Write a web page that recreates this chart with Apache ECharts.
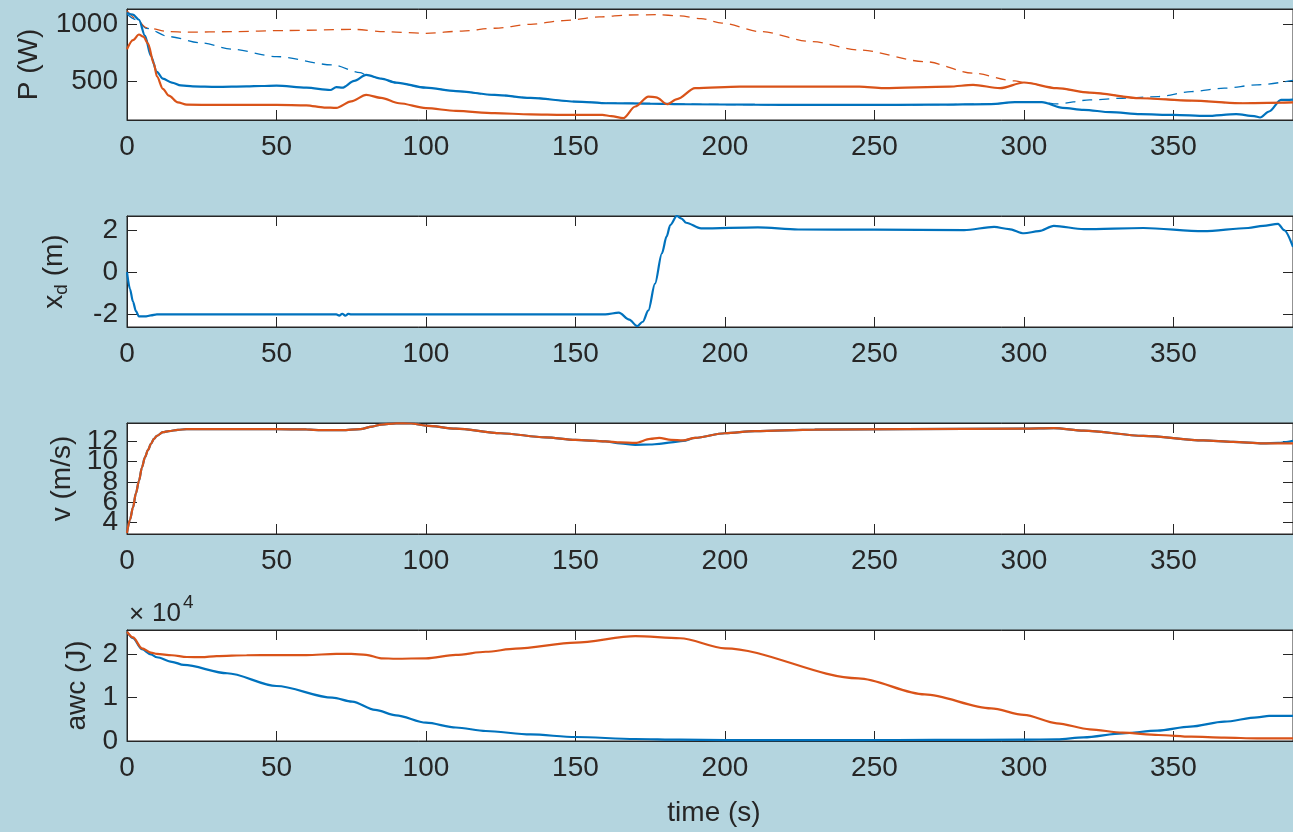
<!DOCTYPE html>
<html>
<head>
<meta charset="utf-8">
<script src="https://cdn.jsdelivr.net/npm/echarts@6/dist/echarts.min.js"></script>
<style>
  html, body { margin: 0; padding: 0; background: #b4d5df; }
  #chart { width: 1293px; height: 832px; }
</style>
</head>
<body>
<div id="chart"></div>
<script>
// x axis (time, s)
const timeTicks = [0, 50, 100, 150, 200, 250, 300, 350];
const timeMax = 390;

// panel 1: power P (W)
const pTicks = [500, 1000];
const pBlueT = [0, 2, 4, 6, 8, 10, 12, 15, 18, 22, 30, 40, 45, 50, 60, 68, 70, 72, 76, 80, 85, 90, 100, 110, 123, 135, 150, 161, 175, 187, 210, 228, 245, 270, 289, 297, 306, 313, 320, 329, 339, 350, 361, 371, 377, 379, 382, 386, 390];
const pBlue = [1100, 1085, 1040, 900, 720, 580, 520, 485, 460, 452, 448, 452, 455, 458, 440, 420, 445, 440, 500, 553, 520, 485, 440, 410, 377, 350, 318, 303, 300, 294, 290, 288, 288, 290, 296, 312, 312, 262, 245, 224, 206, 200, 191, 206, 190, 177, 230, 332, 335];
const pOrangeT = [0, 2, 4, 5.5, 7, 9, 10, 12, 14, 17, 20, 30, 50, 60, 66, 70, 75, 80, 85, 91, 100, 110, 123, 135, 146, 159, 162, 166, 170, 174.4, 177, 180.7, 184, 190, 205, 245, 253, 275, 283, 292, 300, 311, 322, 339, 356, 372, 390];
const pOrange = [780, 860, 910, 890, 832, 650, 540, 430, 370, 310, 290, 288, 288, 285, 265, 262, 320, 377, 350, 303, 260, 235, 215, 205, 200, 200, 190, 171, 274, 362, 355, 294, 340, 436, 450, 450, 436, 450, 465, 436, 486, 436, 397, 347, 326, 303, 310];
const pBlueRefT = [0, 3, 6.5, 14, 25, 35, 50, 69, 78, 80, 85, 90, 100, 110, 123, 135, 150, 161, 175, 187, 210, 228, 245, 270, 289, 297, 306, 311, 322, 333, 345, 356, 367, 378, 390];
const pBlueRef = [1090, 1040, 965, 891, 835, 780, 715, 641, 573, 553, 520, 485, 440, 410, 377, 350, 318, 303, 300, 294, 290, 288, 288, 290, 296, 312, 312, 297, 332, 347, 362, 406, 436, 465, 505];
const pOrangeRefT = [0, 3, 6.5, 14, 20, 35, 53, 76, 86, 100, 112, 123, 135, 146, 158, 168, 177, 185, 192, 199, 212, 229, 245, 267, 283, 297, 300, 311, 322, 339, 356, 372, 390];
const pOrangeRef = [1120, 1050, 970, 935, 930, 935, 945, 955, 935, 920, 940, 965, 1000, 1032, 1065, 1082, 1085, 1075, 1050, 1010, 935, 847, 773, 670, 568, 500, 486, 436, 397, 347, 326, 303, 310];

// panel 2: lateral position x_d (m)
const xdTicks = [-2, 0, 2];
const xdT = [0, 1, 2, 3, 4, 6, 8, 10, 70, 71, 72, 73, 74, 75, 160, 164.5, 168, 170.6, 172.5, 174.4, 176.6, 178.9, 180.5, 181.7, 183.9, 185.5, 187, 192, 211, 224.5, 250, 280, 290, 295, 300, 305, 310, 320, 340, 360, 375, 380, 385, 387, 390];
const xd = [0, -0.8, -1.4, -1.85, -2.1, -2.1, -2.05, -2.0, -2.0, -2.06, -1.97, -2.06, -1.98, -2.0, -2.0, -1.92, -2.25, -2.56, -2.35, -1.81, -0.54, 0.89, 1.7, 2.24, 2.67, 2.55, 2.35, 2.08, 2.13, 2.03, 2.02, 2.0, 2.15, 2.05, 1.85, 1.95, 2.2, 2.05, 2.1, 1.95, 2.1, 2.2, 2.3, 2.0, 1.2];

// panel 3: speed v (m/s) -- labels overlap in the original, drawn in two sets
const vTicks = [4, 6, 8, 10, 12];
const vLabelsA = [4, 8, 12];
const vLabelsB = [6, 10];
const vT = [0, 1, 2, 3, 4, 5, 6, 7, 8, 9, 10, 12, 14, 17, 20, 50, 60, 65, 72, 78, 82, 85, 90, 95, 100, 110, 125, 140, 150, 160, 165, 170, 175, 178, 182, 186, 190, 200, 210, 230, 260, 300, 310, 320, 340, 360, 370, 380, 385, 390];
const vOrange = [3.0, 4.3, 5.5, 6.9, 8.1, 9.4, 10.4, 11.1, 11.7, 12.2, 12.5, 12.85, 12.96, 13.08, 13.15, 13.15, 13.12, 13.05, 13.05, 13.15, 13.4, 13.6, 13.72, 13.7, 13.5, 13.2, 12.75, 12.35, 12.1, 11.95, 11.85, 11.8, 12.2, 12.3, 12.1, 12.05, 12.3, 12.75, 12.95, 13.1, 13.15, 13.2, 13.25, 13.0, 12.5, 12.05, 11.9, 11.75, 11.75, 11.75];
const vBlue = [3.0, 4.3, 5.5, 6.9, 8.1, 9.4, 10.4, 11.1, 11.7, 12.2, 12.5, 12.85, 12.96, 13.08, 13.15, 13.15, 13.12, 13.05, 13.05, 13.15, 13.4, 13.6, 13.72, 13.7, 13.5, 13.2, 12.75, 12.35, 12.1, 11.95, 11.75, 11.62, 11.65, 11.7, 11.85, 12.0, 12.3, 12.75, 12.95, 13.1, 13.15, 13.2, 13.25, 13.0, 12.5, 12.05, 11.9, 11.75, 11.8, 12.0];

// panel 4: anaerobic work capacity awc (J)
const awcTicks = [0, 10000, 20000];
const awcOrangeT = [0, 2, 5, 8, 10, 15, 20, 25, 30, 40, 50, 60, 70, 75, 80, 85, 90, 100, 110, 120, 130, 150, 170, 185, 200, 244.6, 266.8, 289, 300, 311, 322, 333, 345, 356, 367, 378, 390];
const awcOrange = [25100, 23800, 21300, 20300, 20000, 19700, 19300, 19250, 19500, 19700, 19750, 19750, 20000, 20000, 19800, 19000, 18900, 19000, 19800, 20500, 21200, 22600, 24100, 23600, 21300, 14400, 10700, 7500, 6000, 4070, 2690, 1910, 1380, 990, 770, 620, 600];
const awcBlueT = [0, 2, 5, 8, 10, 15, 19, 33.5, 50, 68.7, 75.3, 83, 90, 100, 110, 120, 135, 150, 170, 185, 200, 245, 270, 300, 311, 320, 333, 344.6, 355.6, 367, 378, 382, 390];
const awcBlue = [25100, 23600, 21080, 19900, 19240, 18200, 17470, 15560, 12640, 9950, 9040, 7130, 5900, 4210, 3100, 2300, 1500, 920, 460, 300, 200, 200, 250, 300, 390, 850, 1770, 2370, 3290, 4440, 5450, 5750, 5750];

const BLUE = "#0072bd";
const ORANGE = "#d95319";
const INK = "#262626";
const FONT = "Liberation Sans";

const zip = (t, v) => t.map((x, i) => [x, v[i]]);

const panels = [
  { top: 9, min: 155, max: 1135, ticks: pTicks, labels: pTicks, name: "P (W)", gap: 84, fmt: (v) => String(v) },
  { top: 216, min: -2.6, max: 2.67, ticks: xdTicks, labels: xdTicks, name: "{m|x}{s|d}{m| (m)}", gap: 56, fmt: (v) => String(v) },
  { top: 423, min: 2.9, max: 13.75, ticks: vTicks, labels: vLabelsA, name: "v (m/s)", gap: 50, fmt: (v) => String(v) },
  { top: 630, min: 0, max: 25500, ticks: awcTicks, labels: awcTicks, name: "awc (J)", gap: 32, fmt: (v) => String(v / 10000) },
];

const labelStyle = { color: INK, fontSize: 28, fontFamily: FONT, margin: 9, showMinLabel: true, showMaxLabel: true, hideOverlap: false };
const grid = [], xAxis = [], yAxis = [];
panels.forEach((p, i) => {
  grid.push({
    left: 127, width: 1169, top: p.top, height: 111,
    show: true, backgroundColor: "#fff", borderColor: INK, borderWidth: 1,
  });
  const tick = { show: true, inside: true, length: 10, lineStyle: { color: INK } };
  xAxis.push({
    type: "value", gridIndex: i, min: 0, max: timeMax, position: "bottom",
    axisLine: { onZero: false, lineStyle: { color: INK } },
    axisTick: Object.assign({ customValues: timeTicks }, tick),
    axisLabel: Object.assign({}, labelStyle, { customValues: timeTicks, margin: 13 }),
    splitLine: { show: false },
    name: i === 3 ? "time (s)" : "", nameLocation: "middle", nameGap: 58,
    nameTextStyle: { color: INK, fontSize: 28, fontFamily: FONT, padding: [0, 0, 0, 8] },
  });
  xAxis.push({
    type: "value", gridIndex: i, min: 0, max: timeMax, position: "top",
    axisLine: { onZero: false, lineStyle: { color: INK } },
    axisTick: Object.assign({ customValues: timeTicks }, tick),
    axisLabel: { show: false }, splitLine: { show: false },
  });
  yAxis.push({
    type: "value", gridIndex: i, min: p.min, max: p.max, position: "left",
    axisLine: { show: true, onZero: false, lineStyle: { color: INK } },
    axisTick: Object.assign({ customValues: p.ticks }, tick),
    axisLabel: Object.assign({}, labelStyle, { customValues: p.labels, formatter: p.fmt }),
    splitLine: { show: false },
    name: p.name, nameLocation: "middle", nameGap: p.gap,
    nameTextStyle: {
      color: INK, fontSize: 28, fontFamily: FONT,
      rich: {
        m: { fontSize: 28, fontFamily: FONT, color: INK },
        s: { fontSize: 19, fontFamily: FONT, color: INK, padding: [14, 0, 0, 0] },
      },
    },
  });
  yAxis.push({
    type: "value", gridIndex: i, min: p.min, max: p.max, position: "right",
    axisLine: { show: true, onZero: false, lineStyle: { color: INK } },
    axisTick: Object.assign({ customValues: p.ticks }, tick),
    axisLabel: { show: false }, splitLine: { show: false },
  });
});
// second label set for the crowded speed axis
yAxis.push({
  type: "value", gridIndex: 2, min: panels[2].min, max: panels[2].max, position: "left",
  axisLine: { show: false }, axisTick: { show: false }, splitLine: { show: false },
  axisLabel: Object.assign({}, labelStyle, { customValues: vLabelsB }),
});

function line(panel, data, color, dashed) {
  return {
    type: "line", xAxisIndex: panel * 2, yAxisIndex: panel * 2,
    data: data, showSymbol: false, smooth: 0.3, smoothMonotone: "x",
    z: dashed ? 2 : 3,
    lineStyle: dashed
      ? { color: color, width: 1.3, type: [10, 7] }
      : { color: color, width: 2.2 },
  };
}

const chart = echarts.init(document.getElementById("chart"));
chart.setOption({
  animation: false,
  backgroundColor: "#b4d5df",
  grid: grid,
  xAxis: xAxis,
  yAxis: yAxis,
  graphic: [
    { type: "text", left: 129, top: 602, style: { text: "×", font: "26px " + FONT, fill: INK } },
    { type: "text", left: 152, top: 601, style: { text: "10", font: "26px " + FONT, fill: INK } },
    { type: "text", left: 183, top: 593, style: { text: "4", font: "19px " + FONT, fill: INK } },
  ],
  series: [
    line(0, zip(pBlueRefT, pBlueRef), BLUE, true),
    line(0, zip(pOrangeRefT, pOrangeRef), ORANGE, true),
    line(0, zip(pBlueT, pBlue), BLUE, false),
    line(0, zip(pOrangeT, pOrange), ORANGE, false),
    line(1, zip(xdT, xd), BLUE, false),
    line(2, zip(vT, vBlue), BLUE, false),
    line(2, zip(vT, vOrange), ORANGE, false),
    line(3, zip(awcBlueT, awcBlue), BLUE, false),
    line(3, zip(awcOrangeT, awcOrange), ORANGE, false),
  ],
});
</script>
</body>
</html>
